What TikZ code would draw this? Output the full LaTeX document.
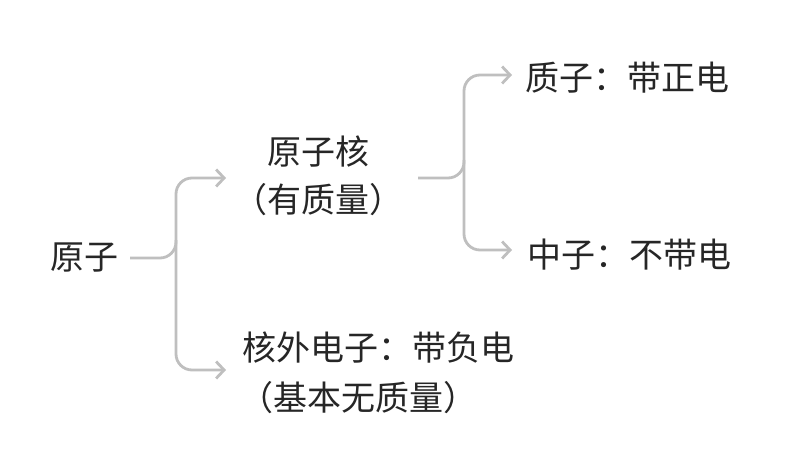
\documentclass[tikz,border=0pt]{standalone}
\usepackage{fontspec}
\setmainfont{Noto Sans CJK SC}
\usetikzlibrary{arrows.meta}
\tikzset{
  lbl/.style={font=\fontsize{34}{48}\selectfont, text=black!85, inner sep=0pt},
  brace/.style={draw=black!25, line width=2.8pt, rounded corners=16pt},
  tip/.style={-{Straight Barb[length=8pt,width=17pt,line width=2.8pt]}}
}
\begin{document}
\begin{tikzpicture}[x=1pt,y=-1pt]
\useasboundingbox (0,0) rectangle (785,468);
%texte
\node[lbl] (atom) at (84,258) {原子};
\node[lbl] (kern) at (318,152) {原子核};
\node[lbl] (kernm) at (318,200) {（有质量）};
\node[lbl] (prot) at (627,78) {质子：带正电};
\node[lbl] (neut) at (629,255) {中子：不带电};
\node[lbl] (elek) at (378,348) {核外电子：带负电};
\node[lbl] (elekm) at (358,398) {（基本无质量）};
%klammer
\coordinate (a1) at (130,258);
\coordinate (a2) at (226,178);
\coordinate (a3) at (226,370);
\draw[brace,tip] (a1) -- (176,258) -- (176,178) -- (a2);
\draw[brace,tip] (176,240) -- (176,370) -- (a3);
\coordinate (b1) at (418,178);
\coordinate (b2) at (512,75);
\coordinate (b3) at (512,250);
\draw[brace,tip] (b1) -- (464,178) -- (464,75) -- (b2);
\draw[brace,tip] (464,160) -- (464,250) -- (b3);
\end{tikzpicture}
\end{document}
